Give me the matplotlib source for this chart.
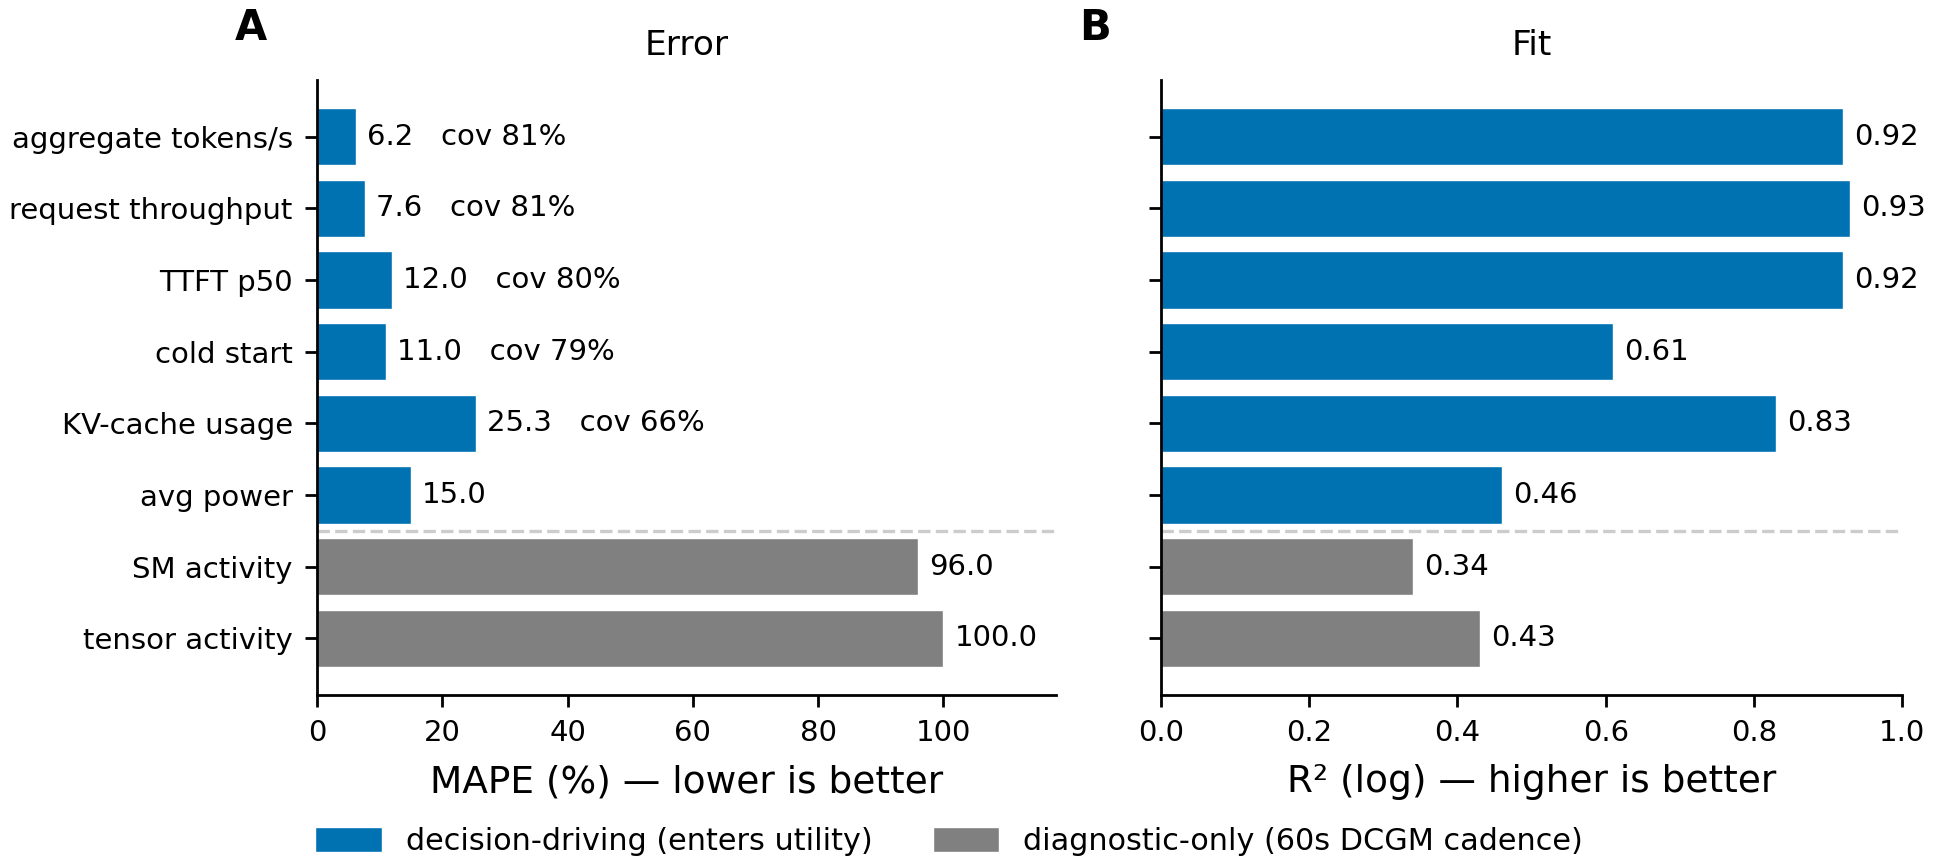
import matplotlib.pyplot as plt
from matplotlib.patches import Patch

# data
metrics = ['aggregate tokens/s', 'request throughput', 'TTFT p50', 'cold start',
           'KV-cache usage', 'avg power', 'SM activity', 'tensor activity']
mape = [6.2, 7.6, 12.0, 11.0, 25.3, 15.0, 96.0, 100.0]
coverage = [81, 81, 80, 79, 66, None, None, None]
r2 = [0.92, 0.93, 0.92, 0.61, 0.83, 0.46, 0.34, 0.43]
decision = [True, True, True, True, True, True, False, False]

BLUE = '#0072B2'
GREY = '#808080'
colors = [BLUE if d else GREY for d in decision]
ypos = list(range(len(metrics)))

fig = plt.figure(figsize=(9.685, 4.34), dpi=200)
ax1 = fig.add_axes([0.1637, 0.1993, 0.3815, 0.7085])
ax2 = fig.add_axes([0.5994, 0.1993, 0.3826, 0.7085])

# panel A: error
ax1.barh(ypos, mape, color=colors, edgecolor='white', linewidth=0.5)
for y, v, c in zip(ypos, mape, coverage):
    label = f'{v:.1f}' if c is None else f'{v:.1f}   cov {c}%'
    ax1.annotate(label, (v, y), xytext=(4, 0), textcoords='offset points',
                 va='center', ha='left', fontsize=10.5)
ax1.set_yticks(ypos)
ax1.set_yticklabels(metrics)
ax1.invert_yaxis()
ax1.set_xlim(0, 118)
ax1.set_xticks([0, 20, 40, 60, 80, 100])
ax1.set_xlabel('MAPE (%) — lower is better', fontsize=13.5, labelpad=6)
ax1.set_title('Error', fontsize=12.4, pad=9)

# panel B: fit
ax2.barh(ypos, r2, color=colors, edgecolor='white', linewidth=0.5)
for y, v in zip(ypos, r2):
    ax2.annotate(f'{v:.2f}', (v, y), xytext=(4, 0), textcoords='offset points',
                 va='center', ha='left', fontsize=10.5)
ax2.set_yticks(ypos)
ax2.set_yticklabels([])
ax2.invert_yaxis()
ax2.set_xlim(0, 1.0)
ax2.set_xticks([0.0, 0.2, 0.4, 0.6, 0.8, 1.0])
ax2.set_xlabel('R² (log) — higher is better', fontsize=13.5, labelpad=6)
ax2.set_title('Fit', fontsize=12.4, pad=9)

for ax, letter in [(ax1, 'A'), (ax2, 'B')]:
    ax.axhline(5.5, color='#cccccc', linestyle='--', linewidth=1.2)
    ax.spines['top'].set_visible(False)
    ax.spines['right'].set_visible(False)
    ax.spines['left'].set_linewidth(1.0)
    ax.spines['bottom'].set_linewidth(1.0)
    ax.tick_params(labelsize=10.5, length=4.3, width=1.0, pad=4.5)
    ax.text(-0.111, 1.065, letter, transform=ax.transAxes, fontsize=15,
            fontweight='bold', ha='left', va='baseline')

handles = [Patch(facecolor=BLUE, edgecolor='white', linewidth=0.5,
                 label='decision-driving (enters utility)'),
           Patch(facecolor=GREY, edgecolor='white', linewidth=0.5,
                 label='diagnostic-only (60s DCGM cadence)')]
fig.legend(handles=handles, loc='center', bbox_to_anchor=(0.490, 0.031), ncol=2,
           frameon=False, fontsize=10.9, handlelength=2.2, handleheight=0.9,
           handletextpad=0.78, columnspacing=2.0)

plt.savefig('out.png', dpi=200)
